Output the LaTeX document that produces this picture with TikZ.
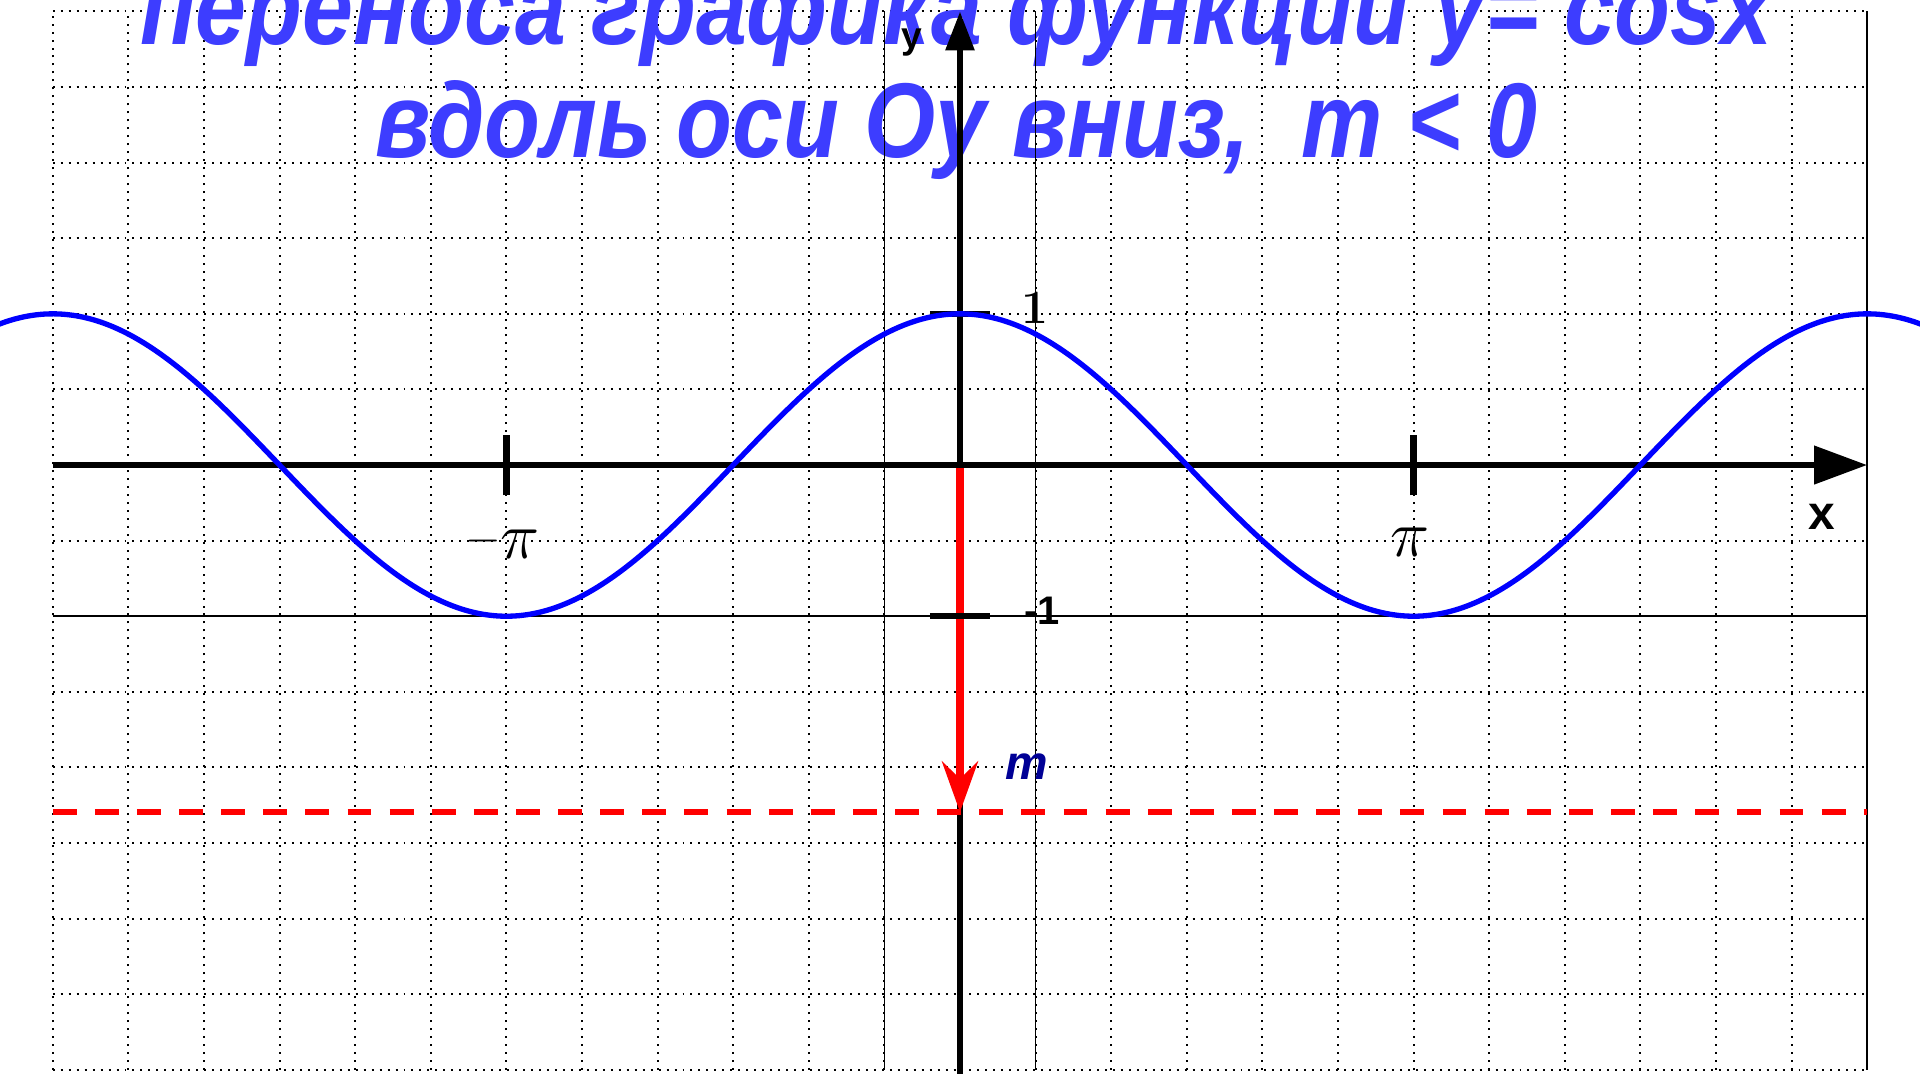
\documentclass[tikz,border=0pt]{standalone}
\usepackage{fontspec}
\usetikzlibrary{arrows.meta}
\newfontfamily\titlefont{Liberation Sans}
\definecolor{TitleBlue}{RGB}{61,61,255}
\definecolor{CosBlue}{RGB}{0,0,255}
\definecolor{LabelNavy}{RGB}{0,0,150}
\definecolor{ShiftRed}{RGB}{255,0,0}

\begin{document}
\begin{tikzpicture}[
    >=Triangle,
    griddot/.style={draw=black, line width=0.75pt, dash pattern=on 0.75pt off 2.25pt},
    gridline/.style={draw=black, line width=0.6pt},
    axisline/.style={draw=black, line width=2.4pt},
    tickmark/.style={draw=black, line width=2.4pt},
    cosplot/.style={draw=CosBlue, line width=2pt},
    shiftarrow/.style={draw=ShiftRed, line width=3pt},
    shiftlevel/.style={draw=ShiftRed, line width=2.2pt, dash pattern=on 9pt off 6.85pt},
    titletext/.style={
        font=\titlefont\bfseries\itshape\fontsize{40}{48}\selectfont,
        text=TitleBlue,
        anchor=base,
        inner sep=0pt,
        xscale=0.86,
        transform shape
    },
    axislabel/.style={font=\titlefont\bfseries\fontsize{18}{22}\selectfont, inner sep=0pt},
    ticklabel/.style={inner sep=0pt}
]
\useasboundingbox (-12.698,-8.056) rectangle (12.698,6.151);

% dotted grid, one cell = pi/6 along x, 1/2 along y
\draw[griddot] (-12,-8) grid (12,6);

% title
\node[titletext] (line1) at (-0.05,5.556) {переноса графика функции y= cosx};
\node[titletext] (line2) at (-0.05,4.07) {вдоль оси Оу вниз,\ \ m < 0};

% solid grid lines
\draw[gridline] (-1,-8) -- (-1,6);
\draw[gridline] (1,-8) -- (1,6);
\draw[gridline] (12,-8) -- (12,6);
\draw[gridline] (-12,-2) -- (12,-2);

% axes ends
\coordinate (O) at (0,0);
\coordinate (xstart) at (-12,0);
\coordinate (xend) at (12,0);
\coordinate (ystart) at (0,-8.05);
\coordinate (yend) at (0,6);
\coordinate (mshift) at (0,-4.59);

\draw[axisline, -{Triangle[length=14.7pt, width=10.5pt]}] (ystart) -- (yend);

% shift down by m
\draw[shiftarrow, -{Stealth[length=19pt, width=13.5pt, inset=6.5pt]}] (O) -- (mshift);
\draw[shiftlevel] (-12,-4.59) -- (12,-4.59);

\draw[axisline, line width=2.6pt, -{Triangle[length=20pt, width=14pt]}] (xstart) -- (xend);

% ticks
\draw[tickmark] (-6,-0.4) -- (-6,0.4);
\draw[tickmark] (6,-0.4) -- (6,0.4);
\draw[tickmark] (-0.4,2) -- (0.4,2);
\draw[tickmark] (-0.4,-2) -- (0.4,-2);

% y = cos x
\draw[cosplot] plot[domain=-12.75:12.75, samples=200, smooth] (\x, {2*cos(30*\x)});

% labels
\node[axislabel] (xlab) at (11.40,-0.69) {x};
\node[axislabel, font=\titlefont\bfseries\fontsize{14}{17}\selectfont] (ylab) at (-0.635,5.595) {y};
\node[inner sep=0pt, font=\bfseries\fontsize{18}{21}\selectfont] (one) at (0.99,2.08) {1};
\node[inner sep=0pt, font=\titlefont\bfseries\fontsize{15}{18}\selectfont] (minusone) at (1.09,-1.93) {-1};
\node[ticklabel] (minuspi) at (-6.05,-1.02)
    {\raisebox{2.4pt}{\fontsize{16}{19}\selectfont$-$}\fontsize{26}{30}\selectfont$\pi$};
\node[ticklabel, font=\fontsize{26}{30}\selectfont] (pi) at (5.95,-1.02) {$\pi$};
\node[inner sep=0pt, text=LabelNavy, font=\titlefont\bfseries\itshape\fontsize{18}{22}\selectfont] (m) at (0.886,-3.99) {m};

\end{tikzpicture}
\end{document}
